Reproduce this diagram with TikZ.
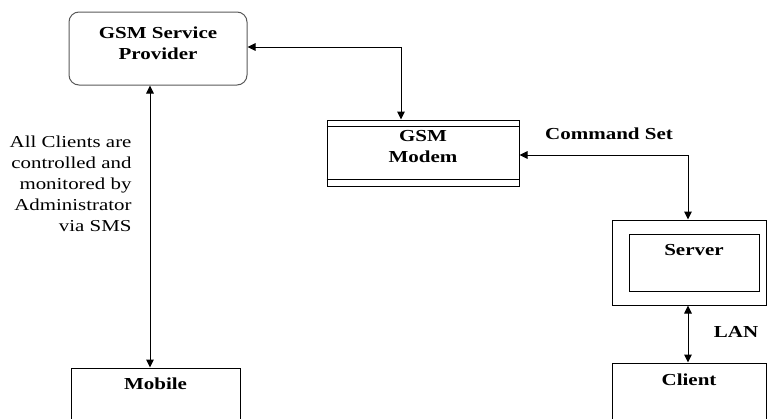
\documentclass[tikz,border=0pt]{standalone}
\usepackage{fontspec}
\setmainfont[FakeStretch=1.25]{Liberation Serif}
\usetikzlibrary{arrows.meta}

\tikzset{
	box/.style={draw=black, line width=1pt, inner sep=0pt},
	link/.style={line width=1pt, {Triangle[length=8pt,width=7.5pt]}-{Triangle[length=8pt,width=7.5pt]}},
	boxtext/.style={font=\fontsize{16.8}{21}\selectfont\bfseries, align=center}
}

\begin{document}
\begin{tikzpicture}[x=1pt,y=-1pt]
		\clip (0,0) rectangle (767,418);
		% boxes
		\node [box, draw=black!65, rounded corners=10pt, minimum width=178pt, minimum height=73pt] (prov) at (158,48.5) {};
		\node [boxtext] (provtext) at (158,43) {GSM Service\\Provider};
		\node [box, minimum width=192pt, minimum height=66pt] (modem) at (423,153) {};
		\draw [line width=1pt] ([yshift=-7pt]modem.north west) -- ([yshift=-7pt]modem.north east);
		\draw [line width=1pt] ([yshift=7pt]modem.south west) -- ([yshift=7pt]modem.south east);
		\node [boxtext] (modemtext) at (423,147) {GSM\\Modem};
		\node [box, minimum width=154pt, minimum height=85pt] (server) at (689,262.5) {};
		\node [box, minimum width=130pt, minimum height=57pt] (serverin) at (694,262.5) {};
		\node [boxtext] (servertext) at (694,250) {Server};
		\node [box, minimum width=154pt, minimum height=80pt] (client) at (689,403) {};
		\node [boxtext] (clienttext) at (689,380) {Client};
		\node [box, minimum width=169pt, minimum height=80pt] (mobile) at (155.5,408) {};
		\node [boxtext] (mobiletext) at (155.5,384) {Mobile};
		% connectors
		\coordinate (pm) at (401,47);
		\draw [link] (prov.east |- pm) -- (pm) -- (pm |- modem.north);
		\coordinate (ms) at (688,155);
		\draw [link] (modem.east |- ms) -- (ms) -- (ms |- server.north);
		\draw [link] (ms |- server.south) -- (ms |- client.north);
		\coordinate (pv) at (150,0);
		\draw [link] (pv |- prov.south) -- (pv |- mobile.north);
		% labels
		\node [boxtext] (cmdset) at (609,134) {Command Set};
		\node [boxtext] (lan) at (736,332) {LAN};
		\node [font=\fontsize{16.7}{21}\selectfont, align=right, anchor=east] (note) at (135,184) {All Clients are\\controlled and\\monitored by\\Administrator\\via SMS};
	\end{tikzpicture}
\end{document}
